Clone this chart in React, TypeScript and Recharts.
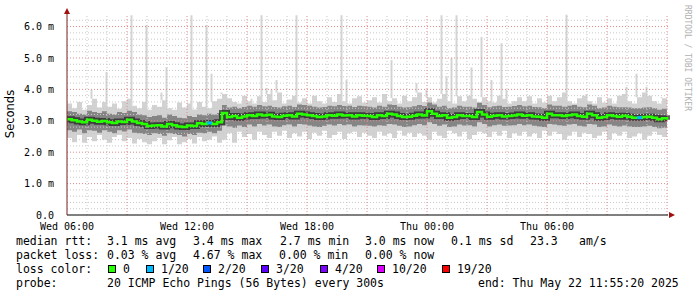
import { ComposedChart, Area, Line, Bar, Scatter, XAxis, YAxis, ReferenceLine } from "recharts";

// 15 minute slots from Wed 06:00 to Thu 12:00 (121 slots), values in ms
const medianRtt = [
  3.05, 3.02, 2.98, 2.95, 3.03, 3.0, 2.97, 2.99, 2.95, 2.93, 2.98, 2.96, 3.03, 2.98, 2.93, 2.9,
  2.83, 2.85, 2.86, 2.82, 2.9, 2.86, 2.82, 2.8, 2.85, 2.83, 2.92, 2.9, 2.93, 2.9, 2.95,
  3.25, 3.12, 3.15, 3.1, 3.14, 3.18, 3.15, 3.2, 3.17, 3.19, 3.14, 3.12, 3.16, 3.18, 3.14,
  3.22, 3.2, 3.18, 3.15, 3.12, 3.14, 3.18, 3.16, 3.2, 3.17, 3.18, 3.14, 3.18, 3.16, 3.15,
  3.12, 3.18, 3.15, 3.22, 3.2, 3.15, 3.12, 3.13, 3.16, 3.2, 3.17, 3.3, 3.22, 3.15, 3.18,
  3.1, 3.12, 3.18, 3.15, 3.15, 3.12, 3.28, 3.2, 3.13, 3.16, 3.18, 3.14, 3.15, 3.17, 3.2,
  3.16, 3.18, 3.14, 3.13, 3.1, 3.22, 3.18, 3.18, 3.15, 3.18, 3.2, 3.15, 3.13, 3.22, 3.18,
  3.1, 3.12, 3.18, 3.15, 3.13, 3.16, 3.13, 3.1, 3.1, 3.12, 3.13, 3.1, 3.05, 3.08, 3.03,
];

const smokeLow = [
  2.45, 2.32, 2.55, 2.3, 2.48, 2.35, 2.55, 2.4, 2.3, 2.48, 2.55, 2.35, 2.45, 2.28, 2.42, 2.32,
  2.25, 2.35, 2.45, 2.25, 2.38, 2.48, 2.25, 2.32, 2.42, 2.28, 2.48, 2.35, 2.4, 2.5, 2.3,
  2.4, 2.6, 2.3, 2.65, 2.48, 2.58, 2.4, 2.65, 2.55, 2.45, 2.65, 2.52, 2.68, 2.45, 2.6,
  2.5, 2.65, 2.42, 2.62, 2.52, 2.68, 2.45, 2.55, 2.65, 2.42, 2.6, 2.65, 2.48, 2.62, 2.52,
  2.45, 2.65, 2.52, 2.6, 2.45, 2.68, 2.52, 2.62, 2.48, 2.6, 2.52, 2.4, 2.65, 2.52, 2.45,
  2.68, 2.6, 2.5, 2.65, 2.42, 2.55, 2.65, 2.6, 2.48, 2.65, 2.52, 2.68, 2.45, 2.6, 2.52,
  2.65, 2.5, 2.6, 2.45, 2.68, 2.52, 2.65, 2.58, 2.4, 2.52, 2.65, 2.48, 2.62, 2.58, 2.45,
  2.52, 2.65, 2.4, 2.6, 2.52, 2.65, 2.45, 2.5, 2.6, 2.4, 2.52, 2.65, 2.55, 2.48, 2.65,
];

const smokeHigh = [
  3.55, 3.4, 3.6, 3.35, 3.5, 3.7, 3.42, 3.6, 3.45, 3.55, 3.38, 3.62, 3.7, 3.48, 3.4, 3.6,
  3.35, 3.5, 3.45, 3.65, 3.4, 3.35, 3.58, 3.42, 3.55, 3.36, 3.6, 3.45, 3.4, 3.62, 3.7,
  3.85, 3.72, 3.6, 3.55, 3.8, 3.62, 3.55, 3.78, 3.6, 3.85, 3.65, 3.9, 3.55, 3.68, 3.8,
  3.58, 3.72, 3.55, 3.8, 3.62, 3.55, 3.75, 3.6, 3.85, 3.62, 3.55, 3.72, 3.78, 3.58, 3.65,
  3.75, 3.58, 3.85, 3.62, 3.72, 3.55, 3.8, 3.62, 3.75, 3.9, 3.6, 3.75, 3.58, 3.7, 3.85,
  3.62, 3.55, 3.78, 3.62, 3.8, 3.7, 3.55, 3.75, 3.62, 3.58, 3.8, 3.7, 3.55, 3.62, 3.75,
  3.62, 3.78, 3.55, 3.72, 3.58, 3.8, 3.62, 3.75, 3.9, 3.62, 3.55, 3.72, 3.8, 3.62, 3.55,
  3.75, 3.58, 3.72, 3.55, 3.8, 3.85, 3.62, 3.55, 3.75, 3.9, 3.8, 3.62, 3.55, 3.72, 3.58,
];

const coreLow = [
  2.7, 2.65, 2.72, 2.6, 2.7, 2.68, 2.62, 2.7, 2.65, 2.6, 2.7, 2.66, 2.72, 2.62, 2.6, 2.58,
  2.55, 2.6, 2.58, 2.52, 2.6, 2.58, 2.55, 2.5, 2.58, 2.55, 2.62, 2.6, 2.65, 2.6, 2.68,
  2.85, 2.82, 2.78, 2.85, 2.8, 2.88, 2.82, 2.9, 2.85, 2.88, 2.82, 2.8, 2.86, 2.88, 2.82,
  2.9, 2.88, 2.85, 2.82, 2.8, 2.84, 2.88, 2.85, 2.9, 2.86, 2.88, 2.82, 2.86, 2.85, 2.84,
  2.82, 2.86, 2.84, 2.9, 2.88, 2.84, 2.8, 2.82, 2.86, 2.9, 2.86, 2.95, 2.9, 2.84, 2.88,
  2.8, 2.82, 2.88, 2.85, 2.86, 2.82, 2.95, 2.9, 2.82, 2.86, 2.88, 2.84, 2.85, 2.86, 2.9,
  2.86, 2.88, 2.84, 2.82, 2.8, 2.9, 2.88, 2.86, 2.84, 2.88, 2.9, 2.84, 2.82, 2.9, 2.88,
  2.8, 2.82, 2.88, 2.84, 2.82, 2.85, 2.82, 2.8, 2.8, 2.82, 2.84, 2.8, 2.76, 2.78, 2.74,
];

const coreHigh = [
  3.3, 3.28, 3.22, 3.2, 3.32, 3.28, 3.25, 3.3, 3.22, 3.2, 3.28, 3.25, 3.32, 3.28, 3.2, 3.18,
  3.12, 3.15, 3.18, 3.1, 3.2, 3.15, 3.1, 3.08, 3.15, 3.12, 3.2, 3.18, 3.22, 3.2, 3.25,
  3.5, 3.42, 3.45, 3.4, 3.44, 3.48, 3.45, 3.5, 3.46, 3.48, 3.44, 3.42, 3.46, 3.48, 3.44,
  3.52, 3.5, 3.48, 3.45, 3.42, 3.44, 3.48, 3.46, 3.5, 3.47, 3.48, 3.44, 3.48, 3.46, 3.45,
  3.42, 3.48, 3.45, 3.52, 3.5, 3.45, 3.42, 3.43, 3.46, 3.5, 3.47, 3.58, 3.52, 3.45, 3.48,
  3.4, 3.42, 3.48, 3.45, 3.45, 3.42, 3.58, 3.5, 3.43, 3.46, 3.48, 3.44, 3.45, 3.47, 3.5,
  3.46, 3.48, 3.44, 3.43, 3.4, 3.52, 3.48, 3.48, 3.45, 3.48, 3.5, 3.45, 3.43, 3.52, 3.48,
  3.4, 3.42, 3.48, 3.45, 3.43, 3.43, 3.42, 3.4, 3.4, 3.42, 3.43, 3.4, 3.35, 3.38, 3.33,
];

// single pings far above the smoke
const spikeSlots = [5, 8, 13, 16, 19, 20, 25, 28, 29, 31, 37, 39, 40, 41, 42, 46, 55, 56, 65, 70, 72, 75, 76, 77, 78, 81, 83, 85, 87, 88, 100, 104, 112, 114, 116, 119];
const spikeTops = [3.98, 4.55, 6.36, 6.05, 3.9, 4.7, 6.36, 6.05, 4.5, 3.9, 3.7, 6.36, 4.05, 4.0, 4.3, 6.36, 6.36, 4.3, 4.93, 4.2, 4.0, 6.36, 4.4, 5.0, 6.36, 4.7, 5.67, 4.3, 5.47, 4.0, 6.38, 3.85, 4.08, 4.5, 4.08, 3.75];

const lossSlots = [28, 114];

const xTicks = [0, 6, 12, 18, 24];
const xTickLabels = ["Wed 06:00", "Wed 12:00", "Wed 18:00", "Thu 00:00", "Thu 06:00"];
const yTicks = [0, 1, 2, 3, 4, 5, 6];

const lossLegend = [
  { label: "0", color: "#26ff00" },
  { label: "1/20", color: "#00b8ff" },
  { label: "2/20", color: "#0059ff" },
  { label: "3/20", color: "#5e00ff" },
  { label: "4/20", color: "#7e00ff" },
  { label: "10/20", color: "#dd00ff" },
  { label: "19/20", color: "#ff0000" },
];

const rows = medianRtt.map((m, i) => {
  const k = spikeSlots.indexOf(i);
  return {
    t: i * 0.25,
    med: m,
    smoke: [smokeLow[i], smokeHigh[i]],
    core: [coreLow[i], coreHigh[i]],
    spike: k >= 0 ? [smokeHigh[i], spikeTops[k]] : null,
  };
});

const lossPoints = lossSlots.map((i) => ({ t: i * 0.25, med: medianRtt[i] }));

const hourLines: number[] = [];
for (let h = 1; h <= 30; h++) hourLines.push(h);
const minorLines: number[] = [];
for (let v = 0.2; v < 6.3; v += 0.2) minorLines.push(Math.round(v * 10) / 10);

const mono = "'DejaVu Sans Mono', monospace";

const txt = (x: number, top: number, s: string) => (
  <div key={`${x}-${top}`} style={{ position: "absolute", left: x, top, whiteSpace: "pre" }}>{s}</div>
);

export default function App() {
  return (
    <div style={{ position: "absolute", left: 0, top: 0, width: 697, height: 297, background: "#fff", overflow: "hidden" }}>
      <ComposedChart width={697} height={297} data={rows} margin={{ top: 14, right: 29, bottom: 62, left: 0 }}>
        <XAxis
          dataKey="t"
          type="number"
          domain={[0, 30.05]}
          ticks={xTicks}
          tickFormatter={(v) => xTickLabels[xTicks.indexOf(v)]}
          tick={{ fontFamily: mono, fontSize: 10, fill: "#000" }}
          tickLine={false}
          tickMargin={2}
          height={20}
          axisLine={{ stroke: "#000" }}
        />
        <YAxis
          type="number"
          domain={[0, 6.4]}
          ticks={yTicks}
          tickFormatter={(v) => (v === 0 ? "0.0" : `${v.toFixed(1)} m`)}
          tick={{ fontFamily: mono, fontSize: 10, fill: "#000" }}
          tickLine={false}
          tickMargin={7}
          width={67}
          axisLine={{ stroke: "#7a2020" }}
        />
        <Bar dataKey="spike" fill="#d4d4d4" barSize={2} isAnimationActive={false} />
        <Area dataKey="smoke" type="stepAfter" stroke="none" fill="#d2d2d2" fillOpacity={1} isAnimationActive={false} />
        <Area dataKey="core" type="stepAfter" stroke="none" fill="#858585" fillOpacity={1} isAnimationActive={false} />
        <Line dataKey="med" type="stepAfter" stroke="#1e1e1e" strokeOpacity={0.7} strokeWidth={6} dot={false} activeDot={false} isAnimationActive={false} />
        {minorLines.map((v) => (
          <ReferenceLine key={`h${v}`} y={v} stroke={Number.isInteger(v) ? "#e08a8a" : "#c8c8c8"} strokeDasharray="1 2" />
        ))}
        {hourLines.map((h) => (
          <ReferenceLine key={`v${h}`} x={h} stroke={h % 3 === 0 ? "#e08a8a" : "#c8c8c8"} strokeDasharray="1 2" />
        ))}
        <Line dataKey="med" type="stepAfter" stroke="#26ff00" strokeWidth={2.5} dot={false} activeDot={false} isAnimationActive={false} />
        <Scatter
          data={lossPoints}
          dataKey="med"
          fill="#00b8ff"
          isAnimationActive={false}
          shape={(p: any) => <rect x={p.cx} y={p.cy - 1.5} width={5} height={3} fill="#00b8ff" />}
        />
      </ComposedChart>

      <svg width={697} height={297} style={{ position: "absolute", left: 0, top: 0, pointerEvents: "none" }}>
        <polygon points="64,14 70,14 67,8" fill="#a01010" />
        <polygon points="669,212 669,218 675,215" fill="#a01010" />
      </svg>

      <div
        style={{
          position: "absolute",
          left: 10,
          top: 114,
          transform: "translate(-50%, -50%) rotate(-90deg)",
          fontFamily: "'DejaVu Sans', sans-serif",
          fontSize: 11.5,
          color: "#000",
          whiteSpace: "nowrap",
        }}
      >
        Seconds
      </div>

      <div
        style={{
          position: "absolute",
          left: 683,
          top: 5,
          writingMode: "vertical-rl",
          fontFamily: mono,
          fontSize: 8,
          color: "#b0b0b0",
          whiteSpace: "nowrap",
        }}
      >
        RRDTOOL / TOBI OETIKER
      </div>

      <div style={{ position: "absolute", left: 0, top: 0, fontFamily: mono, fontSize: 11.5, lineHeight: "14px", color: "#000" }}>
        {txt(16, 234, "median rtt:")}
        {txt(107, 234, "3.1 ms avg")}
        {txt(193, 234, "3.4 ms max")}
        {txt(280, 234, "2.7 ms min")}
        {txt(365, 234, "3.0 ms now")}
        {txt(451, 234, "0.1 ms sd")}
        {txt(530, 234, "23.3")}
        {txt(579, 234, "am/s")}
        {txt(16, 248, "packet loss:")}
        {txt(107, 248, "0.03 % avg")}
        {txt(193, 248, "4.67 % max")}
        {txt(279, 248, "0.00 % min")}
        {txt(365, 248, "0.00 % now")}
        {txt(16, 262, "loss color:")}
        {lossLegend.map((l, i) => {
          const bx = [108, 146, 203, 261, 320, 377, 442][i];
          return (
            <div key={l.label}>
              <div style={{ position: "absolute", left: bx, top: 265, width: 8, height: 8, boxSizing: "border-box", border: "1px solid #000", background: l.color }} />
              {txt(bx + 15, 262, l.label)}
            </div>
          );
        })}
        {txt(16, 276, "probe:")}
        {txt(107, 276, "20 ICMP Echo Pings (56 Bytes) every 300s")}
        {txt(478, 276, "end: Thu May 22 11:55:20 2025")}
      </div>
    </div>
  );
}
